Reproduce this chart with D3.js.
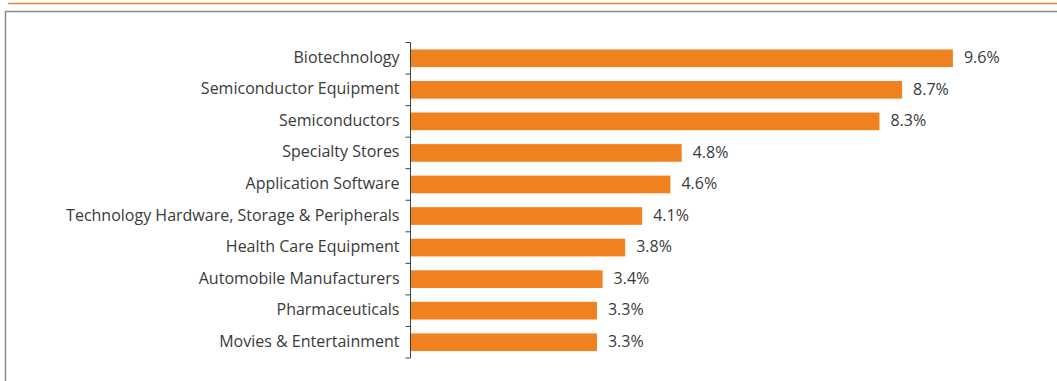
<!DOCTYPE html>
<html>
<head>
<meta charset="utf-8">
<script src="https://cdn.jsdelivr.net/npm/d3@7"></script>
<style>
  html, body { margin: 0; padding: 0; background: #fff; }
  svg { display: block; }
  text { font-family: "Open Sans", "Segoe UI", sans-serif; fill: #3a3a3a; }
</style>
</head>
<body>
<svg id="chart" width="1057" height="381"></svg>
<script>
// Sub-industries, top to bottom
const categories = [
  "Biotechnology",
  "Semiconductor Equipment",
  "Semiconductors",
  "Specialty Stores",
  "Application Software",
  "Technology Hardware, Storage & Peripherals",
  "Health Care Equipment",
  "Automobile Manufacturers",
  "Pharmaceuticals",
  "Movies & Entertainment"
];
// Weight of each sub-industry, in percent
const values = [9.6, 8.7, 8.3, 4.8, 4.6, 4.1, 3.8, 3.4, 3.3, 3.3];

const svg = d3.select("#chart");
const W = 1057, H = 381;

// Frame: orange rule on top, grey panel border below it
svg.append("line")
  .attr("x1", 8).attr("x2", W).attr("y1", 3.5).attr("y2", 3.5)
  .attr("stroke", "#F0862A").attr("stroke-width", 1.3);
svg.append("path")
  .attr("d", `M5.5,${H} V11.5 H${W}`)
  .attr("fill", "none").attr("stroke", "#8a8a8a").attr("stroke-width", 1.5);

const x0 = 410.5;
const x = d3.scaleLinear().domain([0, 10]).range([x0, x0 + 565]);
const y = d3.scaleBand().domain(categories).range([42.5, 358]).paddingInner(0.44).paddingOuter(0.22);

// Bars
svg.append("g").selectAll("rect")
  .data(values)
  .join("rect")
  .attr("x", x(0))
  .attr("y", (d, i) => y(categories[i]))
  .attr("width", d => x(d) - x(0))
  .attr("height", y.bandwidth())
  .attr("fill", "#EF821E");

// Category axis with ticks between bands
const axis = svg.append("g").attr("transform", `translate(${x0},0)`);
axis.append("line")
  .attr("x1", 0).attr("x2", 0).attr("y1", 42.5).attr("y2", 358)
  .attr("stroke", "#404040").attr("stroke-width", 1);
const tickYs = d3.range(categories.length + 1).map(i => 42.5 + i * (358 - 42.5) / categories.length);
axis.selectAll("line.tick")
  .data(tickYs)
  .join("line")
  .attr("class", "tick")
  .attr("x1", -5).attr("x2", 0)
  .attr("y1", d => d).attr("y2", d => d)
  .attr("stroke", "#404040").attr("stroke-width", 1);

// Category labels
svg.append("g").selectAll("text")
  .data(categories)
  .join("text")
  .attr("x", x0 - 11)
  .attr("y", d => y(d) + y.bandwidth() / 2)
  .attr("dy", "0.28em")
  .attr("text-anchor", "end")
  .attr("font-size", 16)
  .text(d => d);

// Value labels
svg.append("g").selectAll("text")
  .data(values)
  .join("text")
  .attr("x", d => x(d) + 11)
  .attr("y", (d, i) => y(categories[i]) + y.bandwidth() / 2)
  .attr("dy", "0.3em")
  .attr("font-size", 16)
  .text(d => d.toFixed(1) + "%");
</script>
</body>
</html>
